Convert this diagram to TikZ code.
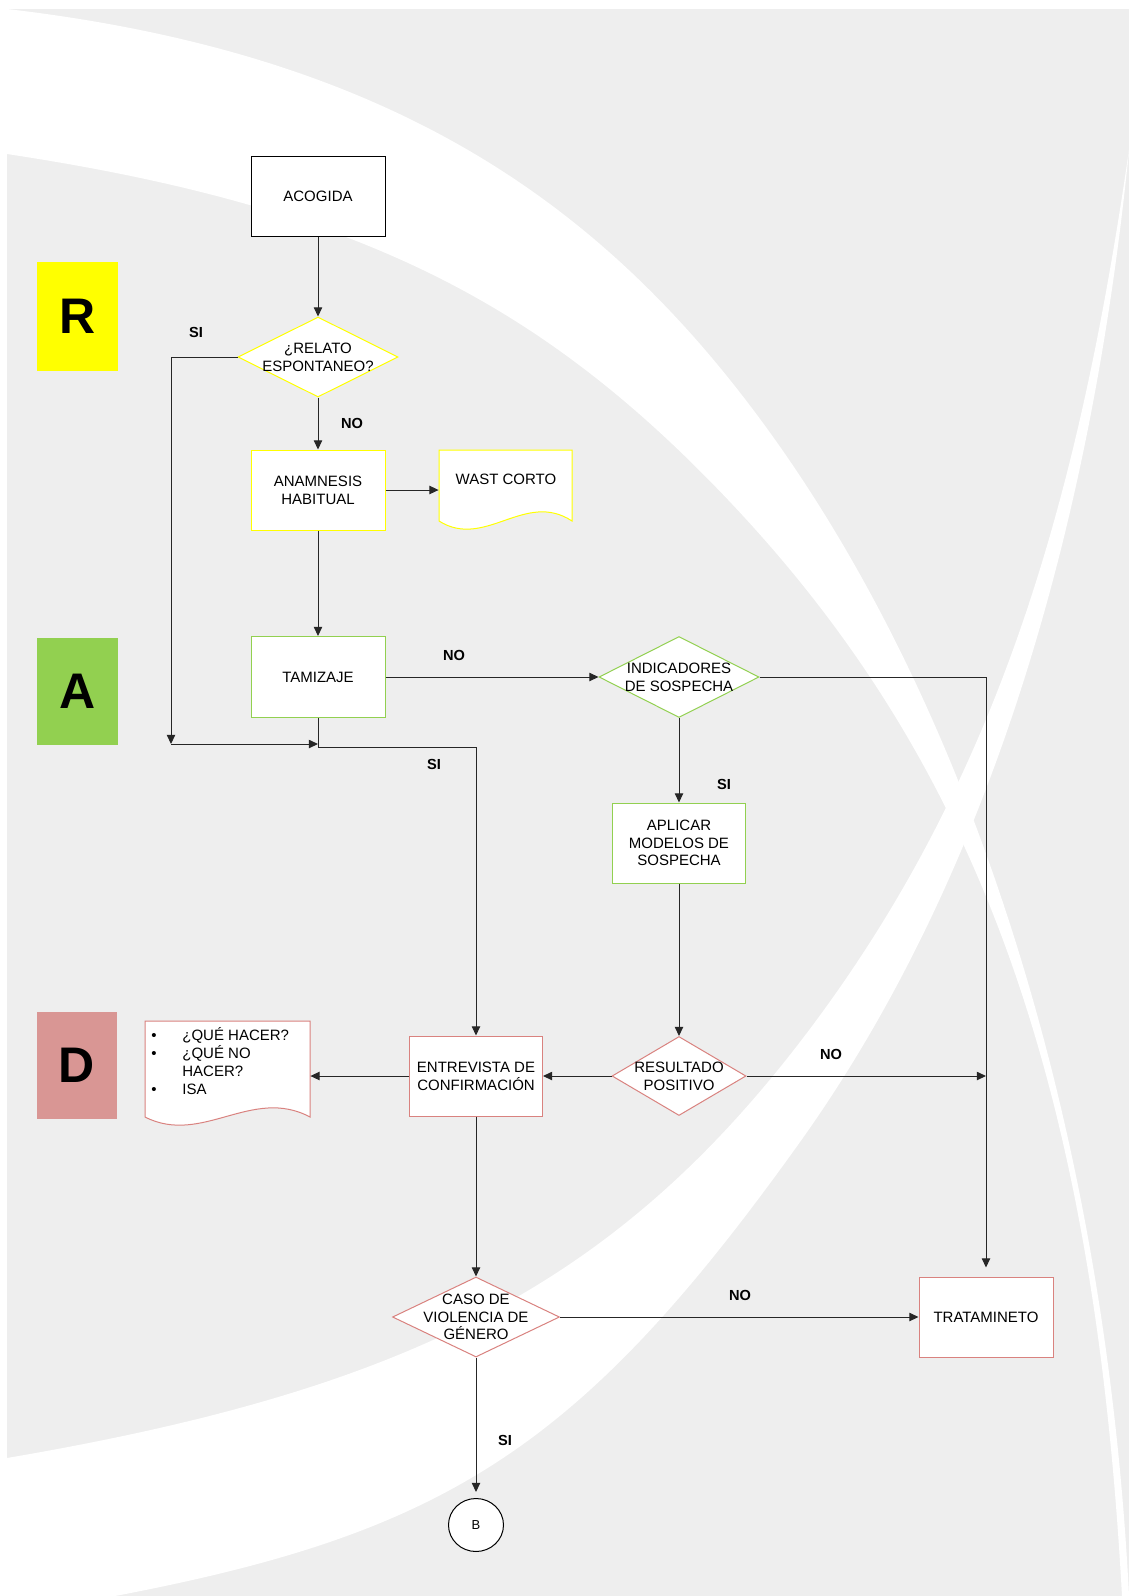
\documentclass[tikz,border=0pt]{standalone}
\usepackage{fontspec}
\setmainfont{Liberation Sans}
\usetikzlibrary{shapes.geometric,arrows.meta,calc}
\definecolor{bg}{HTML}{EEEEEE}
\definecolor{ylw}{HTML}{FFFF00}
\definecolor{grn}{HTML}{92D050}
\definecolor{redb}{HTML}{D9827F}
\definecolor{rose}{HTML}{D99694}
\definecolor{ln}{HTML}{262626}
\begin{document}
\begin{tikzpicture}[x=0.5pt,y=-0.5pt,
  conn/.style={draw=ln, line width=0.5pt},
  arr/.style={conn, -{Triangle[length=4.6pt,width=4.2pt]}},
  box/.style={rectangle, fill=white, line width=0.5pt, inner sep=0pt, align=center, font=\fontsize{7.5}{8.85}\selectfont},
  dia/.style={diamond, fill=white, line width=0.5pt, inner sep=0pt},
  txt/.style={align=center, inner sep=0pt, font=\fontsize{7.5}{8.85}\selectfont},
  lbl/.style={inner sep=0pt, font=\fontsize{7.3}{8.8}\selectfont\bfseries},
  big/.style={inner sep=0pt, font=\fontsize{25}{29}\selectfont\bfseries},
]
\useasboundingbox (0,0) rectangle (1129,1596);
\fill[white] (0,0) rectangle (1129,1596);
\fill[bg] (7,9) rectangle (1129,1596);
% background band A (top-left to bottom-right)
\fill[white] (7,9) .. controls (350,49) and (550,172) .. (700,344)
  .. controls (950,632) and (1104,1096) .. (1129,1596) -- (1122,1596)
  .. controls (1092,1046) and (960,731) .. (700,471)
  .. controls (520,291) and (337,204) .. (7,154) -- cycle;
% background band B (bottom-left to top-right)
\fill[white] (7,1458) .. controls (400,1391) and (610,1289) .. (800,1042)
  .. controls (1000,782) and (1079,495) .. (1129,150)
  .. controls (1089,550) and (980,890) .. (800,1142)
  .. controls (580,1450) and (445,1533) .. (115,1596) -- (7,1596) -- cycle;

% phase boxes
\node[fill=ylw, minimum width=40.5pt, minimum height=54.5pt, big] (pR) at (77.5,316.5) {R};
\node[fill=grn, minimum width=40.5pt, minimum height=53.5pt, big] (pA) at (77.5,691.5) {A};
\node[fill=rose, minimum width=40pt, minimum height=53.5pt, big] (pD) at (77,1065.5) {D};

% process nodes
\node[box, draw=black, minimum width=67pt, minimum height=40pt] (acog) at (318,196) {ACOGIDA};
\node[dia, draw=ylw, minimum width=80pt, minimum height=40pt] (relato) at (318,357) {};
\node[txt] (relatoT) at (relato) {¿RELATO\\ESPONTANEO?};
\node[box, draw=ylw, minimum width=67pt, minimum height=40pt] (anam) at (318,490) {ANAMNESIS\\HABITUAL};
\node[minimum width=66.5pt, minimum height=40pt, inner sep=0pt] (wast) at (505.5,490) {};
\draw[draw=ylw, fill=white, line width=0.5pt] (439,450) -- (572,450) -- (572,521) .. controls (525,490) and (485,550) .. (439,521) -- cycle;
\node[txt] (wastT) at (506,479) {WAST CORTO};
\node[box, draw=grn, minimum width=67pt, minimum height=40.5pt] (tam) at (318,677) {TAMIZAJE};
\node[dia, draw=grn, minimum width=80pt, minimum height=40.5pt] (indic) at (679,677) {};
\node[txt] (indicT) at (indic) {INDICADORES\\DE SOSPECHA};
\node[box, draw=grn, minimum width=66.5pt, minimum height=40pt] (aplic) at (679,843) {APLICAR\\MODELOS DE\\SOSPECHA};
\node[dia, draw=redb, minimum width=67pt, minimum height=39.5pt] (result) at (679,1076) {};
\node[txt] (resultT) at (result) {RESULTADO\\POSITIVO};
\node[box, draw=redb, minimum width=66.5pt, minimum height=40pt] (entrev) at (476,1076) {ENTREVISTA DE\\CONFIRMACIÓN};
\node[minimum width=82.5pt, minimum height=48pt, inner sep=0pt] (qdoc) at (227.5,1069) {};
\draw[draw=redb, fill=white, line width=0.5pt] (145,1021) -- (310,1021) -- (310,1117) .. controls (252,1086) and (202,1146) .. (145,1117) -- cycle;
\node[txt, anchor=base] (qb1) at (154,1040.4) {•};
\node[txt, anchor=base] (qb2) at (154,1058.4) {•};
\node[txt, anchor=base] (qb3) at (154,1094.4) {•};
\node[txt, anchor=base west] (q1) at (182,1040.4) {¿QUÉ HACER?};
\node[txt, anchor=base west] (q2) at (182,1058.4) {¿QUÉ NO};
\node[txt, anchor=base west] (q3) at (182,1076.4) {HACER?};
\node[txt, anchor=base west] (q4) at (182,1094.4) {ISA};
\node[dia, draw=redb, minimum width=83.5pt, minimum height=40pt] (caso) at (476,1317) {};
\node[txt] (casoT) at (caso) {CASO DE\\VIOLENCIA DE\\GÉNERO};
\node[box, draw=redb, minimum width=67pt, minimum height=40pt] (trat) at (986,1317) {TRATAMINETO};
\node[ellipse, draw=black, fill=white, line width=0.5pt, minimum width=27.5pt, minimum height=26.5pt, inner sep=0pt, font=\fontsize{6.5}{7}\selectfont] (bnode) at (476,1525) {B};

% connectors
\coordinate (siTop) at (171,357);
\coordinate (siBot) at (171,744);
\coordinate (siEnd) at (318,744);
\coordinate (tamB) at (318,747);
\draw[arr] (acog.south) -- (relato.north);
\draw[arr] (relato.west) -- (siTop) -- (siBot);
\draw[arr] (siBot) -- (siEnd);
\draw[arr] (relato.south) -- (anam.north);
\draw[arr] (anam.east) -- (anam.east -| wast.west);
\draw[arr] (anam.south) -- (tam.north);
\draw[arr] (tam.east) -- (indic.west);
\draw[arr] (tam.south) -- (tamB) -| (entrev.north);
\draw[arr, shorten >=4.5pt] (indic.east) -| (trat.north);
\draw[arr] (indic.south) -- (aplic.north);
\draw[arr] (aplic.south) -- (result.north);
\draw[arr] (result.east) -- (result.east -| trat.north);
\draw[arr] (result.west) -- (entrev.east);
\draw[arr] (entrev.west) -- (entrev.west -| qdoc.east);
\draw[arr] (entrev.south) -- (caso.north);
\draw[arr] (caso.east) -- (trat.west);
\draw[arr, shorten >=3pt] (caso.south) -- (bnode.north);

% labels
\node[lbl] (l1) at (196,332) {SI};
\node[lbl] (l2) at (352,423) {NO};
\node[lbl] (l3) at (454,655) {NO};
\node[lbl] (l4) at (434,764) {SI};
\node[lbl] (l5) at (724,784) {SI};
\node[lbl] (l6) at (831,1054) {NO};
\node[lbl] (l7) at (740,1295) {NO};
\node[lbl] (l8) at (505,1440) {SI};
\end{tikzpicture}
\end{document}
